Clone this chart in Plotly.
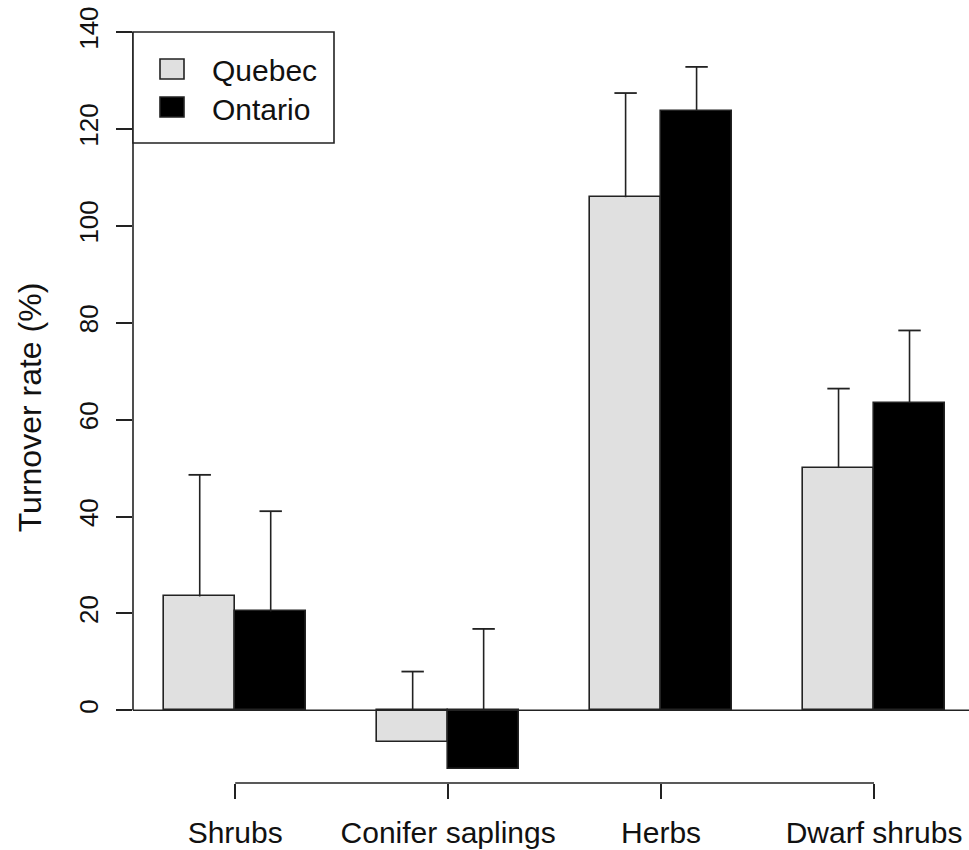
import plotly.graph_objects as go

categories = ["Shrubs", "Conifer saplings", "Herbs", "Dwarf shrubs"]
quebec = [23.5, -6.45, 105.9, 50.0]
ontario = [20.4, -12.2, 123.7, 63.4]
quebec_se = [25.1, 14.45, 21.5, 16.4]
ontario_se = [20.7, 29.0, 9.1, 15.0]
series_names = ["Quebec", "Ontario"]
y_ticks = [0, 20, 40, 60, 80, 100, 120, 140]

# layout positions (R barplot style: bar width 1, group space 1)
centers = [2 + 3 * i for i in range(len(categories))]
q_x = [c - 0.5 for c in centers]
o_x = [c + 0.5 for c in centers]

FONT = "Liberation Sans, Arial, sans-serif"
LINE = "#222222"
QFILL = "#e0e0e0"

fig = go.Figure()
fig.add_trace(go.Bar(x=q_x, y=quebec, width=1, name=series_names[0],
                     marker=dict(color=QFILL, line=dict(color=LINE, width=1.6))))
fig.add_trace(go.Bar(x=o_x, y=ontario, width=1, name=series_names[1],
                     marker=dict(color="#000000", line=dict(color=LINE, width=1.6))))

for xs, vals, se in [(q_x, quebec, quebec_se), (o_x, ontario, ontario_se)]:
    base = [max(v, 0) for v in vals]
    top = [v + s for v, s in zip(vals, se)]
    up = [t - b for t, b in zip(top, base)]
    # vertical whisker (no caps)
    fig.add_trace(go.Scatter(
        x=xs, y=base, mode="markers", showlegend=False, hoverinfo="skip",
        marker=dict(size=1, color="rgba(0,0,0,0)"),
        error_y=dict(type="data", symmetric=False, array=up,
                     arrayminus=[0] * len(up), width=0, thickness=1.6, color=LINE)))
    # cap at the top
    fig.add_trace(go.Scatter(
        x=xs, y=top, mode="markers", showlegend=False, hoverinfo="skip",
        marker=dict(symbol="line-ew", size=16, color=LINE,
                    line=dict(color=LINE, width=1.8))))

shapes = [
    # y axis line from 0 to 140
    dict(type="line", xref="paper", yref="y", x0=0, x1=0, y0=y_ticks[0], y1=y_ticks[-1],
         line=dict(color=LINE, width=1.6)),
    # horizontal line at 0
    dict(type="line", xref="paper", yref="y", x0=0, x1=1, y0=0, y1=0,
         line=dict(color=LINE, width=1.6)),
    # x axis line between first and last tick
    dict(type="line", xref="x", yref="paper", x0=centers[0], x1=centers[-1], y0=0, y1=0,
         line=dict(color=LINE, width=1.6)),
]

# manual legend (plot area: x 133..969, y 32..783 px)
W, H = 836.0, 751.0
def px(xp):
    return (xp - 133) / W
def py(yp):
    return (783 - yp) / H

shapes.append(dict(type="rect", xref="paper", yref="paper", x0=px(133), x1=px(334),
                   y0=py(143), y1=py(32), line=dict(color=LINE, width=1.6), fillcolor="white"))
shapes.append(dict(type="rect", xref="paper", yref="paper", x0=px(160), x1=px(184),
                   y0=py(79), y1=py(59), line=dict(color=LINE, width=1.6), fillcolor=QFILL))
shapes.append(dict(type="rect", xref="paper", yref="paper", x0=px(160), x1=px(184),
                   y0=py(117), y1=py(97), line=dict(color=LINE, width=1.6), fillcolor="#000000"))

annotations = [
    dict(xref="paper", yref="paper", x=px(210), y=py(70.5), text=series_names[0],
         showarrow=False, xanchor="left", yanchor="middle",
         font=dict(family=FONT, size=30, color="#111")),
    dict(xref="paper", yref="paper", x=px(210), y=py(109), text=series_names[1],
         showarrow=False, xanchor="left", yanchor="middle",
         font=dict(family=FONT, size=30, color="#111")),
]

fig.update_layout(
    width=969, height=850,
    margin=dict(l=133, r=0, t=32, b=67, pad=0),
    paper_bgcolor="white", plot_bgcolor="white",
    showlegend=False, barmode="overlay", bargap=0,
    shapes=shapes, annotations=annotations,
    xaxis=dict(range=[0.56, 2 + (969 - 235) / 71.0], tickmode="array", tickvals=centers,
               ticktext=categories, ticks="outside", ticklen=15, tickwidth=1.6,
               tickcolor=LINE, showline=False, showgrid=False, zeroline=False,
               ticklabelstandoff=8, tickfont=dict(family=FONT, size=30, color="#111")),
    yaxis=dict(range=[-15, 140], tickmode="array", tickvals=y_ticks, ticks="outside",
               ticklen=16, tickwidth=1.6, tickcolor=LINE, tickangle=-90,
               showline=False, showgrid=False, zeroline=False, ticklabelstandoff=8,
               tickfont=dict(family=FONT, size=26, color="#111"),
               title=dict(text="Turnover rate (%)", standoff=22,
                          font=dict(family=FONT, size=32, color="#111"))),
)

fig.write_html("out.html")
